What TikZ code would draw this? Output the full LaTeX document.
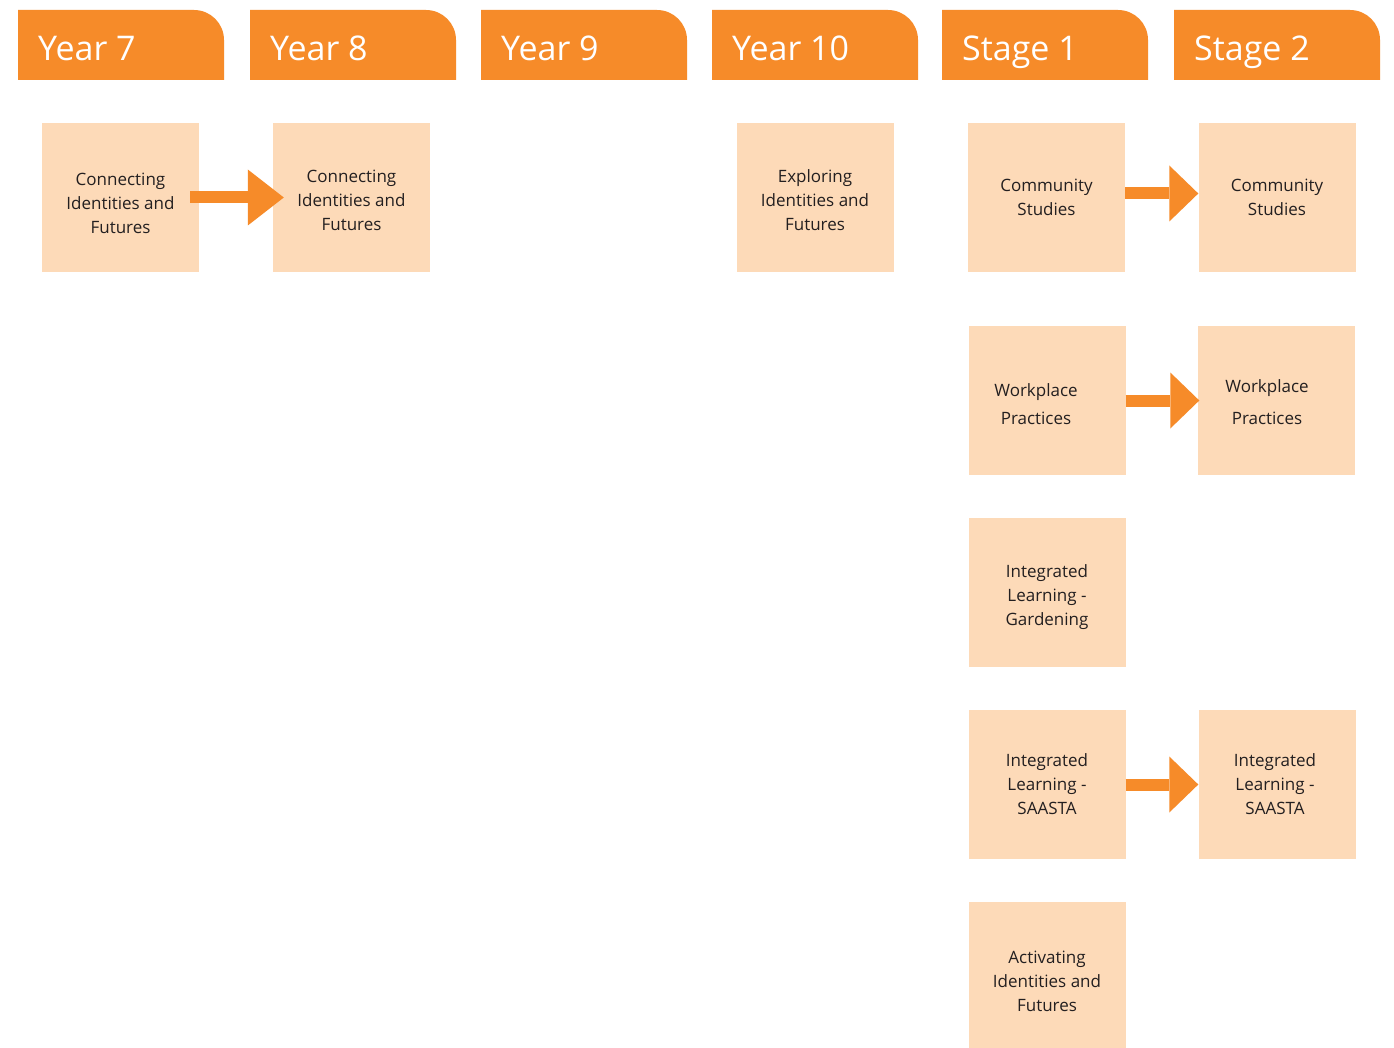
\documentclass[tikz,border=0pt]{standalone}
\usepackage{fontspec}
\setmainfont{Open Sans}
\usetikzlibrary{arrows.meta}
\definecolor{arancio}{HTML}{F68B29}
\definecolor{pesca}{HTML}{FDDAB8}
\definecolor{testo}{HTML}{231F20}

\begin{document}
\begin{tikzpicture}[x=1pt,y=-1pt,font=\fontsize{17}{24}\selectfont,
  scatola/.style={fill=pesca,minimum width=157pt,minimum height=149pt,inner sep=0pt},
  scritta/.style={text=testo,align=center,inner sep=0pt},
  titolo/.style={text=white,font=\fontsize{34}{40}\selectfont,inner sep=0pt,anchor=base west},
  freccia/.style={draw=arancio,line width=12pt,-{Triangle[length=29pt,width=56pt,line width=0pt]}}]

\useasboundingbox[fill=white] (0,0) rectangle (1394,1048);

% intestazioni
\foreach \xa/\etichetta/\nome in {18/Year 7/y7,250/Year 8/y8,481/Year 9/y9,712/Year 10/y10,942/Stage 1/s1,1174/Stage 2/s2}{
  \fill[arancio] (\xa,80) -- (\xa,10) -- (\xa+176,10) arc[start angle=-90,end angle=0,radius=30] -- (\xa+206,80) -- cycle;
  \node[titolo] (\nome) at (\xa+20,61) {\etichetta};
}

% scatole
\node[scatola] (y7a) at (120.5,197.5) {};
\node[scatola] (y8a) at (351.5,197.5) {};
\node[scatola] (y10a) at (815,197.5) {};

\node[scatola] (s1a) at (1046.5,197.5) {};
\node[scatola] (s1b) at (1047,400.5) {};
\node[scatola] (s1c) at (1047,592.5) {};
\node[scatola] (s1d) at (1047,784.5) {};
\node[scatola] (s1e) at (1047,976.5) {};

\node[scatola] (s2a) at (1277,197.5) {};
\node[scatola] (s2b) at (1276,400.5) {};
\node[scatola] (s2c) at (1277,784.5) {};

% scritte
\node[scritta] (y7t) at ([yshift=-6pt]y7a) {Connecting\\Identities and\\Futures};
\node[scritta] (y8t) at ([yshift=-3pt]y8a) {Connecting\\Identities and\\Futures};
\node[scritta] (y10t) at ([yshift=-3pt]y10a) {Exploring\\Identities and\\Futures};

\node[scritta] (s1at) at (s1a) {Community\\Studies};
\node[scritta] (s1bt) at ([xshift=-11pt,yshift=-4pt]s1b) {Workplace\\[4pt]Practices};
\node[scritta] (s1ct) at ([yshift=-5pt]s1c) {Integrated\\Learning -\\Gardening};
\node[scritta] (s1dt) at (s1d) {Integrated\\Learning -\\SAASTA};
\node[scritta] (s1et) at ([yshift=-5pt]s1e) {Activating\\Identities and\\Futures};

\node[scritta] (s2at) at (s2a) {Community\\Studies};
\node[scritta] (s2bt) at ([xshift=-9pt,yshift=-2pt]s2b) {Workplace\\[8pt]Practices};
\node[scritta] (s2ct) at ([xshift=-2pt]s2c) {Integrated\\Learning -\\SAASTA};

% frecce
\draw[freccia,shorten <=-9pt,shorten >=-11pt,-{Triangle[length=36pt,width=56pt,line width=0pt]}] (y7a) -- (y8a);
\draw[freccia] ([yshift=4pt]s1a.east) -- ([yshift=4pt]s2a.west);
\draw[freccia,shorten >=-2pt] (s1b) -- (s2b);
\draw[freccia] (s1d) -- (s2c);

\end{tikzpicture}
\end{document}
